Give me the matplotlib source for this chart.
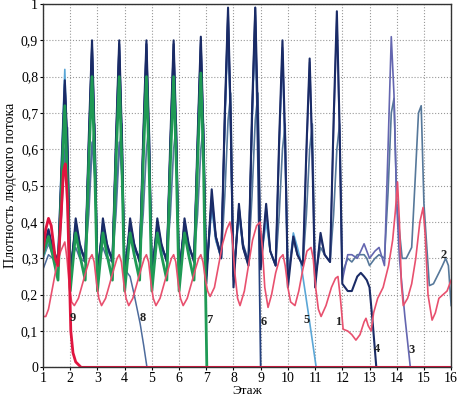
import matplotlib
matplotlib.use("Agg")
import matplotlib.pyplot as plt
from matplotlib.ticker import FuncFormatter

# sample positions inside each floor (shared by the periodic curves)
OFFS = [0.0, 0.2, 0.35, 0.55, 0.68, 0.8, 0.9]
x_grid = [f + d for f in range(1, 16) for d in OFFS] + [16.0]

# ---- curve values, one row per floor ----
c2_y = [
    [0.30, 0.34, 0.31, 0.30, 0.42, 0.60, 0.66],
    [0.27, 0.38, 0.33, 0.30, 0.42, 0.60, 0.67],
    [0.27, 0.38, 0.33, 0.30, 0.42, 0.60, 0.67],
    [0.27, 0.38, 0.33, 0.30, 0.42, 0.60, 0.67],
    [0.27, 0.38, 0.33, 0.30, 0.42, 0.60, 0.67],
    [0.27, 0.38, 0.33, 0.30, 0.42, 0.60, 0.67],
    [0.25, 0.45, 0.35, 0.30, 0.47, 0.68, 0.755],
    [0.25, 0.43, 0.33, 0.29, 0.47, 0.68, 0.755],
    [0.30, 0.42, 0.32, 0.28, 0.42, 0.60, 0.67],
    [0.25, 0.35, 0.31, 0.28, 0.42, 0.60, 0.67],
    [0.25, 0.33, 0.31, 0.29, 0.42, 0.60, 0.67],
    [0.26, 0.30, 0.29, 0.31, 0.31, 0.31, 0.30],
    [0.28, 0.30, 0.31, 0.30, 0.48, 0.70, 0.74],
    [0.45, 0.30, 0.30, 0.33, 0.52, 0.70, 0.72],
    [0.45, 0.225, 0.23, 0.26, 0.28, 0.30, 0.28],
    [0.17],
]
c3_y = [
    [0.32, 0.36, 0.32, 0.29, 0.55, 0.78, 0.60],
    [0.25, 0.40, 0.34, 0.29, 0.62, 0.89, 0.62],
    [0.25, 0.40, 0.34, 0.29, 0.62, 0.89, 0.62],
    [0.25, 0.40, 0.34, 0.29, 0.62, 0.89, 0.62],
    [0.25, 0.40, 0.34, 0.29, 0.62, 0.89, 0.62],
    [0.25, 0.40, 0.34, 0.29, 0.62, 0.90, 0.62],
    [0.25, 0.47, 0.36, 0.30, 0.68, 0.97, 0.66],
    [0.24, 0.44, 0.33, 0.28, 0.68, 0.97, 0.66],
    [0.28, 0.44, 0.32, 0.28, 0.62, 0.88, 0.60],
    [0.24, 0.36, 0.31, 0.28, 0.58, 0.84, 0.58],
    [0.24, 0.36, 0.31, 0.29, 0.66, 0.96, 0.64],
    [0.24, 0.31, 0.31, 0.30, 0.32, 0.34, 0.32],
    [0.30, 0.32, 0.33, 0.28, 0.60, 0.91, 0.75],
]
c3_tail_x = [14.0, 14.1, 14.3, 14.5]
c3_tail_y = [0.45, 0.30, 0.14, 0.0]

c4_y = [
    [0.33, 0.38, 0.33, 0.29, 0.55, 0.79, 0.60],
    [0.23, 0.41, 0.34, 0.29, 0.63, 0.90, 0.63],
    [0.23, 0.41, 0.34, 0.29, 0.63, 0.90, 0.63],
    [0.23, 0.41, 0.34, 0.29, 0.63, 0.90, 0.63],
    [0.23, 0.41, 0.34, 0.29, 0.63, 0.90, 0.63],
    [0.23, 0.41, 0.34, 0.29, 0.63, 0.91, 0.63],
    [0.23, 0.49, 0.36, 0.30, 0.70, 0.99, 0.68],
    [0.22, 0.45, 0.33, 0.28, 0.70, 0.99, 0.68],
    [0.27, 0.45, 0.32, 0.28, 0.63, 0.90, 0.62],
    [0.22, 0.36, 0.31, 0.28, 0.60, 0.85, 0.58],
    [0.22, 0.37, 0.31, 0.29, 0.68, 0.98, 0.66],
    [0.23, 0.21, 0.21, 0.25, 0.26, 0.25, 0.24],
]
c4_tail_x = [13.0, 13.12, 13.25]
c4_tail_y = [0.22, 0.12, 0.0]

c5_y = [
    [0.30, 0.35, 0.32, 0.30, 0.58, 0.82, 0.55],
    [0.26, 0.37, 0.32, 0.30, 0.60, 0.87, 0.58],
    [0.26, 0.37, 0.32, 0.30, 0.60, 0.87, 0.58],
    [0.26, 0.37, 0.32, 0.30, 0.60, 0.87, 0.58],
    [0.26, 0.37, 0.32, 0.30, 0.60, 0.87, 0.58],
    [0.26, 0.37, 0.32, 0.30, 0.60, 0.88, 0.58],
    [0.26, 0.44, 0.35, 0.30, 0.66, 0.95, 0.62],
    [0.25, 0.42, 0.33, 0.29, 0.66, 0.95, 0.62],
    [0.29, 0.40, 0.32, 0.28, 0.60, 0.87, 0.58],
    [0.24, 0.37, 0.33],
]
c5_tail_x = [10.45, 10.74, 11.04]
c5_tail_y = [0.30, 0.155, 0.0]

c6_y = [
    [0.34, 0.37, 0.33, 0.28, 0.53, 0.78, 0.58],
    [0.27, 0.39, 0.33, 0.30, 0.61, 0.89, 0.61],
    [0.27, 0.39, 0.33, 0.30, 0.61, 0.89, 0.61],
    [0.27, 0.39, 0.33, 0.30, 0.61, 0.89, 0.61],
    [0.27, 0.39, 0.33, 0.30, 0.61, 0.89, 0.61],
    [0.27, 0.39, 0.33, 0.30, 0.61, 0.90, 0.61],
    [0.26, 0.46, 0.36, 0.31, 0.68, 0.98, 0.66],
    [0.25, 0.44, 0.34, 0.29, 0.68, 0.99, 0.55],
]
c6_tail_x = [9.0]
c6_tail_y = [0.0]

c7_y = [
    [0.31, 0.36, 0.31, 0.24, 0.50, 0.72, 0.50],
    [0.21, 0.37, 0.31, 0.24, 0.56, 0.80, 0.55],
    [0.21, 0.37, 0.31, 0.24, 0.56, 0.80, 0.55],
    [0.21, 0.37, 0.31, 0.24, 0.56, 0.80, 0.55],
    [0.21, 0.37, 0.31, 0.24, 0.56, 0.80, 0.55],
    [0.21, 0.37, 0.31, 0.24, 0.56, 0.81, 0.55],
]
c7_tail_x = [7.02]
c7_tail_y = [0.0]

c8_y = [
    [0.27, 0.31, 0.30, 0.28, 0.44, 0.60, 0.50],
    [0.28, 0.33, 0.30, 0.29, 0.46, 0.62, 0.52],
    [0.28, 0.33, 0.30, 0.29, 0.46, 0.62, 0.52],
]
c8_tail_x = [4.0, 4.2, 4.35, 4.57, 4.7, 4.82]
c8_tail_y = [0.27, 0.25, 0.20, 0.12, 0.06, 0.0]

c1_x = [1.0, 1.1, 1.2, 1.35, 1.5, 1.65, 1.8, 1.88, 1.97, 2.05, 2.15,
        2.3, 2.45, 2.6, 2.72, 2.8, 2.88, 2.97, 3.05, 3.15,
        3.3, 3.45, 3.6, 3.72, 3.8, 3.88, 3.97, 4.05, 4.15,
        4.3, 4.45, 4.6, 4.72, 4.8, 4.88, 4.97, 5.05, 5.15,
        5.3, 5.45, 5.6, 5.72, 5.8, 5.88, 5.97, 6.05, 6.15,
        6.3, 6.45, 6.6, 6.72, 6.8, 6.88, 6.97, 7.05, 7.14,
        7.3, 7.45, 7.6, 7.75, 7.87, 7.95, 8.05, 8.15, 8.24,
        8.4, 8.55, 8.7, 8.85, 8.98, 9.06, 9.15, 9.27,
        9.4, 9.55, 9.7, 9.82, 9.9, 10.0, 10.1, 10.26,
        10.4, 10.55, 10.7, 10.85, 10.93, 11.02, 11.12, 11.22,
        11.4, 11.6, 11.75, 11.84, 11.93, 12.03, 12.2, 12.35, 12.5,
        12.65, 12.8, 12.87, 12.95, 13.06, 13.15, 13.3, 13.5, 13.7,
        13.85, 13.95, 14.03, 14.1, 14.17, 14.24, 14.4, 14.55, 14.7,
        14.85, 14.97, 15.05, 15.15, 15.3, 15.42, 15.55, 15.7, 15.85, 16.0]
c1_y = [0.14, 0.14, 0.16, 0.22, 0.28, 0.32, 0.345, 0.30, 0.22, 0.18, 0.17,
        0.19, 0.23, 0.27, 0.30, 0.31, 0.29, 0.23, 0.19, 0.17,
        0.19, 0.23, 0.27, 0.30, 0.31, 0.29, 0.23, 0.19, 0.17,
        0.19, 0.23, 0.27, 0.30, 0.31, 0.29, 0.23, 0.19, 0.17,
        0.19, 0.23, 0.27, 0.30, 0.31, 0.29, 0.23, 0.19, 0.17,
        0.19, 0.23, 0.27, 0.30, 0.31, 0.29, 0.24, 0.21, 0.195,
        0.22, 0.28, 0.34, 0.38, 0.40, 0.36, 0.26, 0.19, 0.17,
        0.21, 0.28, 0.35, 0.39, 0.40, 0.33, 0.22, 0.165,
        0.20, 0.26, 0.30, 0.31, 0.28, 0.22, 0.18, 0.17,
        0.21, 0.27, 0.32, 0.33, 0.30, 0.22, 0.16, 0.14,
        0.17, 0.22, 0.245, 0.25, 0.19, 0.105, 0.10, 0.09, 0.075,
        0.09, 0.125, 0.135, 0.115, 0.10, 0.15, 0.19, 0.22, 0.28,
        0.35, 0.43, 0.51, 0.40, 0.23, 0.17, 0.19, 0.23, 0.30,
        0.40, 0.44, 0.36, 0.20, 0.13, 0.15, 0.19, 0.20, 0.21, 0.24]

c9_x = [1.0, 1.1, 1.2, 1.3, 1.45, 1.55, 1.65, 1.75, 1.82, 1.9, 1.97,
        2.02, 2.1, 2.2, 2.4, 16.0]
c9_y = [0.32, 0.38, 0.41, 0.39, 0.30, 0.28, 0.40, 0.54, 0.56, 0.45, 0.25,
        0.10, 0.04, 0.015, 0.0, 0.0]

# curve numbers and where they are written
lab_text = ["9", "8", "7", "6", "5", "1", "4", "3", "2"]
lab_x = [2.1, 4.68, 7.1, 9.12, 10.67, 11.85, 13.28, 14.53, 15.74]
lab_y = [0.135, 0.135, 0.13, 0.125, 0.13, 0.125, 0.05, 0.047, 0.31]


def build(rows, tail_x=(), tail_y=()):
    ys = [v for r in rows for v in r]
    xs = x_grid[:len(ys)]
    return xs + list(tail_x), ys + list(tail_y)


fig = plt.figure(figsize=(4.58, 3.98), dpi=100)
ax = fig.add_axes([0.094, 0.077, 0.891, 0.913])

serif = "Liberation Serif"

x, y = build(c2_y)
ax.plot(x, y, color="#56789a", lw=1.2)
x, y = build(c5_y, c5_tail_x, c5_tail_y)
ax.plot(x, y, color="#5aa6d6", lw=1.2)
x, y = build(c3_y, c3_tail_x, c3_tail_y)
ax.plot(x, y, color="#6466b0", lw=1.2)
x, y = build(c8_y, c8_tail_x, c8_tail_y)
ax.plot(x, y, color="#4d6b9c", lw=1.1)
x, y = build(c6_y, c6_tail_x, c6_tail_y)
ax.plot(x, y, color="#24407e", lw=1.3)
x, y = build(c4_y, c4_tail_x, c4_tail_y)
ax.plot(x, y, color="#1a2b66", lw=1.5)
x, y = build(c7_y, c7_tail_x, c7_tail_y)
ax.plot(x, y, color="#1f9a55", lw=2.0)
ax.plot(c1_x, c1_y, color="#e8506e", lw=1.2)
ax.plot(c9_x, c9_y, color="#e0153f", lw=2.0)

for t, lx, ly in zip(lab_text, lab_x, lab_y):
    ax.text(lx, ly, t, fontsize=9, fontweight="bold", family=serif,
            ha="center", va="center", color="#222222")

ax.set_xlim(1, 16)
ax.set_ylim(0, 1.0)
ax.set_xticks(range(1, 17))
ax.set_yticks([i / 10 for i in range(11)])
ax.yaxis.set_major_formatter(FuncFormatter(
    lambda v, p: "0" if v == 0 else ("1" if v == 1 else f"{v:.1f}".replace(".", ","))))
ax.tick_params(length=2, labelsize=10, pad=1.5)
for lbl in ax.get_xticklabels() + ax.get_yticklabels():
    lbl.set_family(serif)
ax.grid(True, linestyle=":", color="#999999", lw=0.8)
for s in ax.spines.values():
    s.set_color("#333333")
    s.set_linewidth(1.0)

ax.set_xlabel("Этаж", family=serif, fontsize=9.5, labelpad=0)
ax.set_ylabel("Плотность людского потока", family=serif, fontsize=10, labelpad=3)

fig.savefig("out.png", dpi=100)
